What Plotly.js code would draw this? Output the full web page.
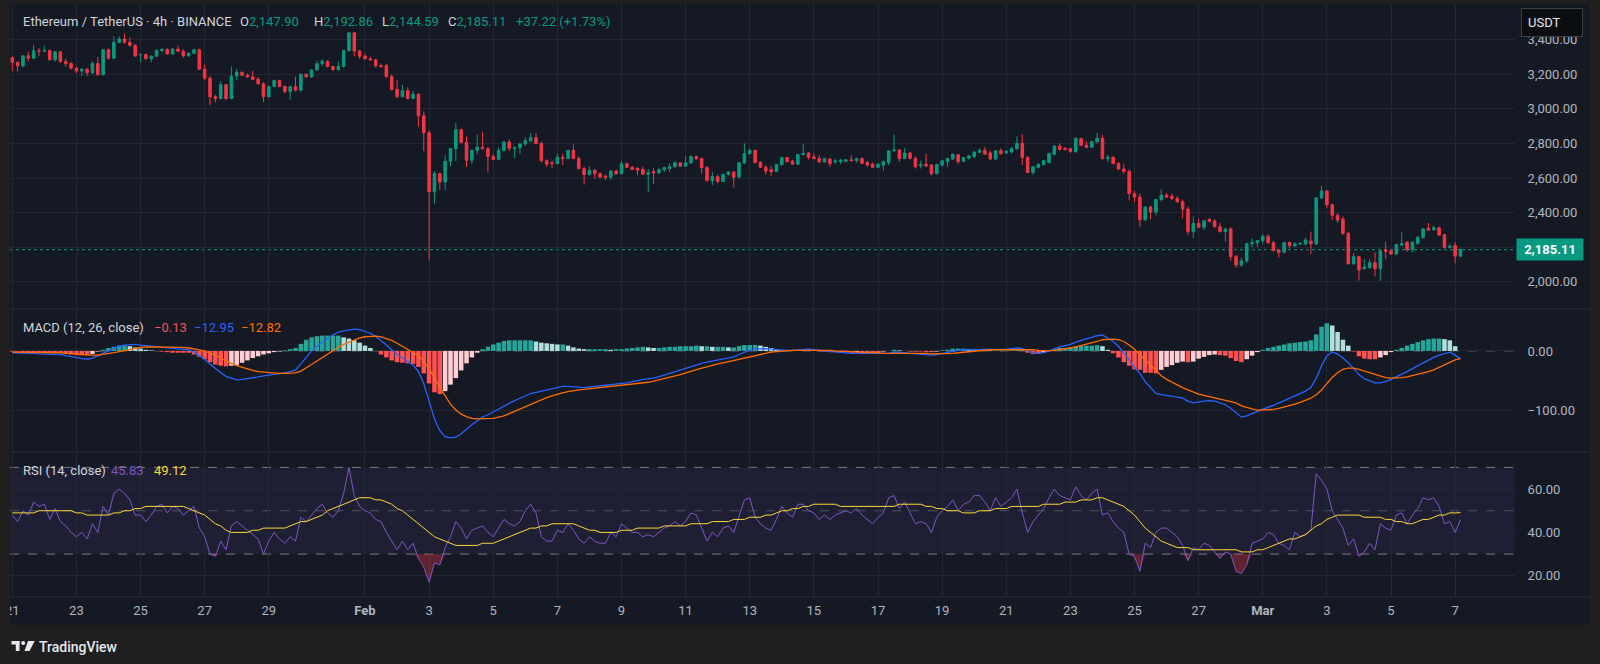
<!DOCTYPE html>
<html><head><meta charset="utf-8">
<script src="https://cdn.plot.ly/plotly-3.0.1.min.js"></script>
<style>html,body{margin:0;padding:0;background:#1f1f1f;overflow:hidden}#chart{width:1600px;height:664px}</style>
</head><body><div id="chart"></div>
<script>
// ---------------- DATA (ETH/USDT 4h, Binance) ----------------
const firstCandle = '2025-01-21T00:00:00Z';
const candleHours = 4;
const open = [
3296,3270,3249,3307,3293,3336,3334,3338,3284,3330,
3274,3262,3236,3220,3230,3210,3262,3197,3342,3293,
3385,3404,3385,3368,3312,3315,3290,3305,3338,3345,
3318,3346,3334,3308,3322,3342,3230,3178,3070,3060,
3140,3060,3190,3212,3195,3185,3172,3145,3070,3130,
3165,3130,3100,3128,3108,3200,3185,3225,3262,3275,
3245,3228,3245,3338,3440,3335,3305,3290,3284,3250,
3250,3187,3113,3070,3105,3060,3085,2960,2862,2520,
2625,2577,2697,2770,2880,2805,2703,2760,2778,2770,
2725,2708,2760,2808,2772,2775,2797,2815,2833,2800,
2700,2688,2683,2720,2713,2760,2713,2655,2620,2645,
2625,2612,2605,2640,2625,2682,2662,2655,2650,2622,
2637,2630,2648,2655,2665,2688,2668,2688,2725,2712,
2660,2585,2608,2580,2620,2635,2605,2688,2742,2760,
2690,2662,2648,2636,2678,2718,2697,2680,2735,2745,
2722,2712,2693,2710,2693,2695,2697,2705,2700,2712,
2690,2680,2662,2675,2690,2757,2762,2713,2745,2713,
2672,2680,2675,2625,2675,2695,2710,2735,2697,2715,
2725,2748,2760,2745,2710,2758,2745,2750,2770,2800,
2718,2632,2662,2678,2690,2738,2785,2772,2770,2752,
2828,2790,2778,2810,2830,2712,2720,2683,2652,2638,
2510,2490,2358,2432,2403,2475,2500,2495,2482,2462,
2420,2290,2338,2315,2360,2350,2318,2290,2305,2145,
2097,2120,2220,2225,2238,2262,2225,2182,2170,2227,
2208,2218,2218,2235,2218,2485,2525,2445,2385,2362,
2280,2103,2145,2075,2082,2110,2075,2185,2178,2160,
2212,2228,2188,2222,2255,2310,2300,2312,2272,2198,
2210,2147.90];
const high = [
3302,3274,3310,3332,3371,3352,3365,3342,3332,3335,
3290,3270,3245,3235,3235,3275,3300,3345,3350,3420,
3420,3435,3415,3375,3320,3320,3310,3345,3350,3350,
3350,3366,3345,3328,3345,3348,3258,3190,3082,3160,
3145,3245,3230,3215,3205,3220,3185,3155,3135,3168,
3168,3135,3135,3187,3205,3205,3228,3280,3290,3282,
3250,3275,3340,3445,3445,3342,3320,3302,3290,3262,
3262,3200,3168,3140,3125,3105,3090,2985,2875,2640,
2630,2732,2775,2920,2885,2840,2765,2850,2868,2780,
2740,2775,2815,2823,2782,2805,2835,2860,2860,2810,
2708,2700,2740,2740,2765,2795,2725,2665,2668,2650,
2632,2615,2645,2648,2700,2688,2670,2665,2665,2652,
2657,2655,2665,2685,2700,2690,2725,2730,2728,2718,
2670,2635,2620,2625,2640,2640,2690,2800,2770,2765,
2698,2675,2670,2682,2722,2722,2705,2740,2796,2750,
2742,2732,2715,2715,2712,2712,2708,2730,2718,2718,
2700,2690,2685,2700,2762,2852,2768,2775,2752,2725,
2700,2740,2680,2682,2705,2718,2742,2738,2722,2735,
2755,2770,2780,2760,2762,2772,2760,2780,2840,2852,
2728,2668,2685,2705,2745,2790,2800,2778,2775,2835,
2833,2813,2813,2862,2850,2735,2725,2693,2680,2650,
2525,2510,2438,2440,2480,2535,2515,2510,2495,2475,
2435,2378,2365,2358,2370,2362,2340,2310,2315,2155,
2140,2225,2250,2242,2275,2275,2235,2190,2230,2232,
2228,2228,2255,2290,2490,2555,2530,2452,2395,2378,
2290,2165,2150,2130,2130,2170,2185,2232,2190,2220,
2285,2235,2232,2262,2312,2340,2325,2318,2278,2218,
2230,2192.86];
const low = [
3218,3216,3240,3274,3290,3307,3330,3280,3275,3268,
3245,3228,3205,3190,3190,3200,3195,3195,3285,3290,
3380,3378,3360,3300,3270,3285,3268,3300,3330,3315,
3315,3330,3295,3300,3316,3228,3165,3022,3037,3055,
3048,3055,3165,3190,3180,3165,3140,3040,3065,3125,
3125,3090,3052,3100,3100,3180,3180,3220,3250,3240,
3220,3220,3240,3332,3305,3290,3285,3280,3240,3238,
3180,3105,3065,3068,3055,3058,2897,2755,2122,2452,
2530,2530,2668,2697,2800,2665,2680,2735,2765,2632,
2702,2705,2750,2757,2718,2742,2785,2808,2795,2690,
2665,2655,2680,2675,2710,2708,2650,2562,2615,2597,
2600,2588,2590,2620,2622,2660,2645,2616,2618,2520,
2565,2625,2635,2635,2660,2665,2665,2682,2705,2625,
2580,2560,2570,2578,2615,2545,2600,2680,2735,2685,
2658,2620,2612,2635,2670,2690,2676,2676,2732,2707,
2712,2690,2690,2665,2680,2680,2692,2698,2690,2680,
2668,2658,2658,2641,2675,2755,2694,2710,2708,2655,
2655,2663,2615,2620,2665,2665,2705,2680,2692,2708,
2715,2745,2734,2705,2705,2735,2740,2742,2762,2675,
2630,2620,2655,2672,2690,2730,2760,2760,2748,2748,
2785,2772,2775,2800,2708,2695,2680,2648,2625,2470,
2460,2315,2352,2360,2385,2465,2485,2472,2458,2367,
2268,2252,2310,2300,2345,2312,2285,2232,2122,2080,
2085,2110,2200,2200,2220,2220,2175,2140,2165,2192,
2200,2215,2210,2160,2212,2480,2425,2356,2340,2270,
2100,2100,2007,2070,2075,2030,2005,2130,2155,2155,
2205,2175,2170,2215,2248,2295,2298,2265,2190,2192,
2106,2144.59];
const close = [
3270,3249,3307,3293,3336,3334,3338,3284,3330,3274,
3262,3236,3220,3230,3210,3262,3197,3342,3293,3385,
3404,3385,3368,3307,3315,3290,3305,3338,3345,3318,
3346,3334,3308,3322,3342,3230,3178,3070,3060,3140,
3060,3190,3212,3195,3185,3172,3145,3070,3130,3165,
3130,3100,3128,3108,3200,3185,3225,3262,3275,3245,
3228,3245,3338,3440,3335,3305,3290,3284,3250,3245,
3187,3113,3070,3105,3060,3085,2960,2862,2520,2625,
2577,2697,2770,2880,2805,2703,2760,2778,2770,2725,
2708,2760,2808,2772,2775,2797,2815,2833,2800,2700,
2680,2683,2720,2713,2760,2713,2655,2620,2645,2625,
2605,2605,2640,2625,2682,2662,2650,2645,2622,2632,
2630,2648,2660,2665,2688,2668,2688,2725,2712,2660,
2585,2608,2580,2620,2635,2605,2688,2742,2760,2690,
2662,2640,2636,2678,2718,2695,2680,2735,2742,2720,
2712,2693,2712,2683,2699,2702,2705,2700,2712,2685,
2675,2662,2680,2695,2757,2762,2713,2745,2713,2665,
2678,2670,2625,2678,2700,2712,2737,2695,2718,2728,
2750,2760,2738,2710,2758,2740,2755,2770,2800,2718,
2632,2665,2680,2700,2742,2785,2765,2765,2752,2830,
2790,2778,2810,2830,2712,2720,2683,2652,2638,2510,
2490,2358,2432,2403,2475,2500,2490,2482,2462,2420,
2290,2338,2315,2352,2350,2318,2290,2305,2145,2097,
2120,2220,2228,2238,2262,2225,2180,2170,2227,2208,
2218,2222,2242,2218,2485,2525,2445,2385,2357,2280,
2103,2145,2068,2085,2110,2075,2178,2175,2160,2215,
2220,2185,2228,2258,2305,2298,2312,2270,2198,2205,
2147.89,2185.11];

// MACD (12, 26, close)
const macdLine = [
-3,-3,-4,-4,-4,-5,-5,-5,-5,-6,
-8,-10,-12,-13,-14,-12,-8,-4,0,4,
8,10,11,11,10,9,8,7,6,5,
4,3,3,2,-2,-8,-14,-22,-30,-37,
-43,-46,-49,-48,-47,-45,-44,-42,-41,-40,
-39,-37,-35,-32,-22,-10,0,8,15,21,
27,32,34,36,37,36,33,30,25,18,
10,2,-6,-12,-18,-24,-35,-55,-85,-115,
-135,-145,-147,-146,-140,-132,-125,-118,-112,-108,
-103,-98,-93,-88,-84,-80,-76,-72,-70,-68,
-66,-64,-62,-60,-60,-61,-62,-62,-61,-60,
-59,-58,-58,-57,-56,-54,-52,-50,-48,-47,
-46,-44,-41,-38,-35,-32,-29,-26,-23,-21,
-19,-17,-15,-13,-12,-10,-6,-2,1,3,
4,4,3,2,1,1,1,2,3,3,
2,1,0,-1,-2,-3,-3,-4,-4,-4,
-4,-5,-5,-5,-4,-2,-2,-3,-4,-5,
-5,-6,-7,-6,-4,-2,0,1,2,2,
3,3,3,3,3,3,3,4,5,4,
0,-3,-4,-3,0,4,7,9,11,15,
18,20,23,26,27,22,16,8,-3,-15,
-28,-38,-52,-62,-72,-74,-75,-77,-78,-80,
-85,-88,-86,-85,-84,-85,-88,-91,-97,-105,
-112,-110,-106,-102,-98,-95,-92,-88,-84,-80,
-76,-72,-68,-62,-46,-25,-8,-2,-5,-12,
-20,-30,-40,-47,-51,-54,-54,-52,-48,-44,
-40,-35,-30,-25,-20,-15,-11,-7,-4,-2,
-7,-12.95];
const signalLine = [
-2,-2,-2,-2,-2,-3,-3,-3,-3,-3,
-4,-4,-5,-6,-7,-7,-7,-6,-5,-3,
-1,1,3,5,6,7,7,7,7,7,
7,6,6,5,4,2,0,-3,-7,-12,
-17,-21,-25,-28,-31,-33,-35,-36,-37,-38,
-38,-38,-38,-37,-34,-29,-23,-17,-11,-5,
1,6,11,15,19,22,24,25,25,24,
21,18,13,8,3,-2,-8,-17,-30,-45,
-62,-77,-90,-100,-107,-111,-114,-115,-115,-115,
-114,-112,-110,-106,-102,-98,-94,-90,-86,-82,
-79,-76,-73,-71,-69,-67,-66,-65,-64,-63,
-62,-61,-60,-60,-59,-58,-57,-56,-55,-53,
-51,-49,-47,-45,-42,-40,-37,-34,-32,-29,
-27,-24,-22,-20,-18,-16,-14,-12,-9,-7,
-5,-3,-2,-1,0,0,1,1,1,2,
2,2,1,1,0,0,-1,-1,-2,-2,
-3,-3,-3,-4,-4,-4,-3,-3,-3,-4,
-4,-4,-5,-5,-5,-4,-4,-3,-2,-1,
0,1,1,2,2,2,2,3,3,3,
3,2,1,0,0,1,2,4,5,7,
9,11,14,16,19,20,20,19,16,10,
3,-6,-15,-25,-34,-42,-48,-53,-58,-62,
-66,-70,-73,-75,-77,-79,-81,-83,-85,-88,
-93,-96,-98,-100,-100,-100,-99,-97,-95,-93,
-90,-87,-84,-80,-74,-66,-55,-45,-37,-31,
-29,-29,-31,-34,-37,-40,-43,-45,-46,-46,
-45,-44,-42,-40,-38,-35,-32,-28,-24,-20,
-15,-12.82];
const histogram = [
-1,-1,-2,-2,-2,-2,-2,-2,-2,-3,
-4,-6,-7,-7,-7,-5,-1,2,5,7,
9,9,8,6,4,2,1,0,-1,-2,
-3,-3,-3,-3,-6,-10,-14,-19,-23,-25,
-26,-25,-24,-20,-16,-12,-9,-6,-4,-2,
-1,1,3,5,12,19,23,25,26,26,
26,26,23,21,18,14,9,5,0,-6,
-11,-16,-19,-20,-21,-22,-27,-38,-55,-70,
-73,-68,-57,-46,-33,-21,-11,-3,3,7,
11,14,17,18,18,18,18,18,16,14,
13,12,11,11,9,6,4,3,3,3,
3,3,2,3,3,4,5,6,7,6,
5,5,6,7,7,8,8,8,9,8,
8,7,7,7,6,6,8,10,10,10,
9,7,5,3,1,1,0,1,2,1,
0,-1,-1,-2,-2,-3,-2,-3,-2,-2,
-1,-2,-2,-1,0,2,1,0,-1,-1,
-1,-2,-2,-1,1,2,4,4,4,3,
3,2,2,1,1,1,1,1,2,1,
-3,-5,-5,-3,0,3,5,5,6,8,
9,9,9,10,8,2,-4,-11,-19,-25,
-31,-32,-37,-37,-38,-32,-27,-24,-20,-18,
-19,-18,-13,-10,-7,-6,-7,-8,-12,-17,
-19,-14,-8,-2,2,5,7,9,11,13,
14,15,16,18,28,41,47,43,32,19,
9,-1,-9,-13,-14,-14,-11,-7,-2,2,
5,9,12,15,18,20,21,21,20,18,
8,-0.13];

// RSI (14, close) and its moving average
const rsi = [
48,45,50,48,54,52,53,46,51,45,
43,40,38,40,37,44,40,52,48,58,
60,58,55,48,48,45,48,52,53,49,
52,51,48,50,52,42,38,30,29,36,
32,43,45,43,41,39,37,30,36,40,
37,35,38,36,47,45,48,51,53,49,
47,50,58,70,57,52,50,49,46,45,
40,36,32,36,32,35,28,24,17,26,
25,33,38,45,42,37,41,42,43,40,
38,42,46,44,43,45,50,53,49,38,
36,36,41,40,44,41,37,35,38,36,
35,35,40,38,44,42,40,40,38,39,
38,40,42,43,45,43,45,49,48,42,
36,40,38,42,43,40,48,55,56,47,
44,42,41,46,52,49,47,53,53,50,
49,46,48,46,48,49,50,49,51,48,
46,44,47,49,56,57,51,54,49,44,
45,44,40,47,50,52,55,50,53,54,
57,57,54,50,56,52,54,56,60,49,
40,45,48,51,56,60,57,56,55,61,
57,55,58,60,48,49,45,42,40,30,
29,22,35,33,40,42,42,40,38,34,
27,33,32,35,34,31,28,31,30,22,
21,25,35,36,37,40,39,35,34,32,
40,38,39,41,67,64,60,50,46,42,
34,37,29,31,35,32,44,42,41,48,
49,44,48,51,56,55,56,52,44,45,
40,45.83];
const rsiMA = [
49,49,49,49,49,50,50,50,50,50,
50,50,49,49,48,48,48,48,48,49,
49,50,50,51,51,52,52,52,52,52,
52,52,52,51,50,49,48,46,44,43,
41,40,40,40,40,41,41,42,42,42,
42,42,43,44,45,45,46,47,48,50,
51,52,53,54,55,56,56,56,55,55,
54,53,51,50,48,46,44,42,40,38,
37,36,35,34,34,34,34,34,35,35,
35,36,37,38,39,40,41,42,42,43,
43,44,44,44,44,44,43,42,41,41,
40,40,40,40,41,41,41,42,42,42,
42,42,43,43,43,43,43,44,44,44,
44,45,45,45,45,46,46,46,47,47,
47,48,48,49,50,50,51,51,52,52,
53,53,53,53,53,52,52,52,52,52,
52,52,52,52,52,52,53,53,53,53,
53,52,52,51,51,50,50,50,49,49,
49,50,50,50,51,51,51,52,52,52,
52,52,52,53,53,53,53,54,54,54,
55,55,55,56,56,55,54,53,52,50,
48,45,42,40,38,36,35,34,33,33,
33,32,32,32,32,32,32,32,32,32,
31,31,31,32,32,33,34,35,36,37,
37,38,39,41,43,44,46,47,48,48,
48,48,48,47,47,47,47,46,46,45,
45,44,44,45,46,46,47,48,48,49,
49,49.12];

// Axis ticks
const dateTicks = ['2025-01-21','2025-01-23','2025-01-25','2025-01-27','2025-01-29','2025-02-01','2025-02-03','2025-02-05','2025-02-07','2025-02-09','2025-02-11','2025-02-13','2025-02-15','2025-02-17','2025-02-19','2025-02-21','2025-02-23','2025-02-25','2025-02-27','2025-03-01','2025-03-03','2025-03-05','2025-03-07'];
const dateLabels = ['21','23','25','27','29','<b>Feb</b>','3','5','7','9','11','13','15','17','19','21','23','25','27','<b>Mar</b>','3','5','7'];
const priceTicks = [2000,2200,2400,2600,2800,3000,3200,3400];
const priceLabels = ['2,000.00','','2,400.00','2,600.00','2,800.00','3,000.00','3,200.00','3,400.00'];
const macdTicks = [-100,0];
const rsiTicks = [20,40,60];
const rsiLevels = [70,50,30];

// ---------------- BUILD ----------------
const t0 = Date.parse(firstCandle);
const step = candleHours*3600*1000;
const times = close.map((_, i) => t0 + i*step);
const N = close.length;

const W=1600, H=664, L=10, R=85, T=4, B=67;
const PW=W-L-R, PH=H-T-B;
const px = x => (x-L)/PW;
const py = y => 1-(y-T)/PH;

const UP='#089981', DN='#f23645';
const histColors = histogram.map((h,i)=>{
  const p = i>0 ? histogram[i-1] : h;
  if (h>=0) return h>=p ? '#26a69a' : '#b2dfdb';
  return h<=p ? '#ff5252' : '#ffcdd2';
});
const lowBand = rsi.map(()=>30), highBand = rsi.map(()=>70);
const rsiUnder = rsi.map(v=>Math.min(v,30)), rsiOver = rsi.map(v=>Math.max(v,70));

const traces = [
  {type:'candlestick', x:times, open, high, low, close, xaxis:'x', yaxis:'y',
   increasing:{line:{color:UP,width:1}, fillcolor:UP},
   decreasing:{line:{color:DN,width:1}, fillcolor:DN},
   whiskerwidth:0, hoverinfo:'skip', showlegend:false},
  {type:'bar', x:times, y:histogram, xaxis:'x', yaxis:'y2', marker:{color:histColors, line:{width:0}}, hoverinfo:'skip', showlegend:false},
  {type:'scatter', mode:'lines', x:times, y:macdLine, xaxis:'x', yaxis:'y2', line:{color:'#2962ff',width:1.3}, hoverinfo:'skip', showlegend:false},
  {type:'scatter', mode:'lines', x:times, y:signalLine, xaxis:'x', yaxis:'y2', line:{color:'#ff6d00',width:1.3}, hoverinfo:'skip', showlegend:false},
  // oversold / overbought fills
  {type:'scatter', mode:'lines', x:times, y:lowBand, xaxis:'x', yaxis:'y3', line:{width:0, color:'rgba(0,0,0,0)'}, hoverinfo:'skip', showlegend:false},
  {type:'scatter', mode:'lines', x:times, y:rsiUnder, xaxis:'x', yaxis:'y3', line:{width:0, color:'rgba(0,0,0,0)'}, fill:'tonexty', fillcolor:'rgba(242,54,69,0.35)', hoverinfo:'skip', showlegend:false},
  {type:'scatter', mode:'lines', x:times, y:highBand, xaxis:'x', yaxis:'y3', line:{width:0, color:'rgba(0,0,0,0)'}, hoverinfo:'skip', showlegend:false},
  {type:'scatter', mode:'lines', x:times, y:rsiOver, xaxis:'x', yaxis:'y3', line:{width:0, color:'rgba(0,0,0,0)'}, fill:'tonexty', fillcolor:'rgba(8,153,129,0.35)', hoverinfo:'skip', showlegend:false},
  {type:'scatter', mode:'lines', x:times, y:rsi, xaxis:'x', yaxis:'y3', line:{color:'#7e57c2',width:1}, hoverinfo:'skip', showlegend:false},
  {type:'scatter', mode:'lines', x:times, y:rsiMA, xaxis:'x', yaxis:'y3', line:{color:'#fdd835',width:1}, hoverinfo:'skip', showlegend:false}
];

const GRID='#232733', TICK='#b2b5be', FONT='Roboto, "Noto Sans", sans-serif';
const yCommon = {side:'right', anchor:'x', gridcolor:GRID, gridwidth:1, zeroline:false, showline:false,
  ticks:'outside', ticklen:9, tickcolor:'rgba(0,0,0,0)', tickfont:{color:TICK,size:13,family:FONT}, fixedrange:true};

const lastC = close[N-1], prevC = close[N-2], lastO = open[N-1], lastH = high[N-1], lastLo = low[N-1];
const chg = lastC - prevC, pct = chg/prevC*100;
const f2 = v => v.toLocaleString('en-US',{minimumFractionDigits:2, maximumFractionDigits:2});
const sgn = v => (v>=0?'+':'\u2212') + f2(Math.abs(v));
const minus = v => (v<0?'\u2212':'') + f2(Math.abs(v));

const shapes = [
  {type:'rect', xref:'paper', yref:'paper', x0:px(10), x1:px(1590), y0:py(4), y1:py(625), fillcolor:'#151924', line:{width:0}, layer:'below'},
  {type:'rect', xref:'paper', yref:'y3', x0:0, x1:1, y0:30, y1:70, fillcolor:'rgba(126,87,194,0.10)', line:{width:0}, layer:'below'},
  ...rsiLevels.map(v=>({type:'line', xref:'paper', yref:'y3', x0:0, x1:1, y0:v, y1:v, line:{color: v===50?'rgba(120,123,134,0.55)':'#787b86', width:1, dash:'dash'}, layer:'below'})),
  {type:'line', xref:'paper', yref:'y2', x0:0, x1:1, y0:0, y1:0, line:{color:'rgba(120,123,134,0.8)', width:1, dash:'dash'}, layer:'below'},
  {type:'line', xref:'paper', yref:'y', x0:0, x1:1, y0:lastC, y1:lastC, line:{color:UP, width:1, dash:'dot'}, layer:'below'},
  ...[309,452,597].map(y=>({type:'line', xref:'paper', yref:'paper', x0:px(10), x1:px(1590), y0:py(y), y1:py(y), line:{color:'#2a2e39', width:1}})),
  {type:'rect', xref:'paper', yref:'paper', x0:px(0), x1:px(10), y0:py(596), y1:py(628), fillcolor:'#1f1f1f', line:{width:0}, layer:'above'},
  // TradingView logo
  {type:'rect', xref:'paper', yref:'paper', x0:px(11.5), x1:px(19.5), y0:py(644.5), y1:py(641), fillcolor:'#e6e8ee', line:{width:0}},
  {type:'rect', xref:'paper', yref:'paper', x0:px(15.8), x1:px(19.5), y0:py(651), y1:py(641), fillcolor:'#e6e8ee', line:{width:0}},
  {type:'circle', xref:'paper', yref:'paper', x0:px(21.2), x1:px(25.2), y0:py(645), y1:py(641), fillcolor:'#e6e8ee', line:{width:0}},
  {type:'path', xref:'paper', yref:'paper', path:`M ${px(28)} ${py(641)} L ${px(34.7)} ${py(641)} L ${px(29.5)} ${py(651)} L ${px(24.5)} ${py(651)} Z`, fillcolor:'#e6e8ee', line:{width:0}}
];

const ann = (x,y,text,opts={}) => Object.assign({xref:'paper', yref:'paper', x:px(x), y:py(y), xanchor:'left', yanchor:'middle', text, showarrow:false, font:{family:FONT,size:13,color:'#d1d4dc'}}, opts);
const V = s => `<span style="color:${UP}">${s}</span>`;

const annotations = [
  ann(20.5, 21, 'Ethereum / TetherUS · 4h · BINANCE'),
  ann(238, 21, 'O'+V(f2(lastO))),
  ann(312, 21, 'H'+V(f2(lastH))),
  ann(380, 21, 'L'+V(f2(lastLo))),
  ann(446, 21, 'C'+V(f2(lastC))),
  ann(514, 21, V(sgn(chg)+' ('+sgn(pct)+'%)')),
  ann(20.5, 327, 'MACD (12, 26, close)'),
  ann(152, 327, minus(histogram[N-1]), {font:{family:FONT,size:13,color:'#f7525f'}}),
  ann(192, 327, minus(macdLine[N-1]), {font:{family:FONT,size:13,color:'#2962ff'}}),
  ann(239, 327, minus(signalLine[N-1]), {font:{family:FONT,size:13,color:'#ff6d00'}}),
  ann(20.5, 470, 'RSI (14, close)'),
  ann(109, 470, f2(rsi[N-1]), {font:{family:FONT,size:13,color:'#7e57c2'}}),
  ann(152, 470, f2(rsiMA[N-1]), {font:{family:FONT,size:13,color:'#fdd835'}}),
  // price scale label
  {xref:'paper', yref:'y', x:px(1550), y:lastC, xanchor:'center', yanchor:'middle', text:'<b>'+f2(lastC)+'</b>', showarrow:false,
   font:{family:FONT,size:13,color:'#ffffff'}, bgcolor:UP, borderpad:3, width:60},
  // currency box
  {xref:'paper', yref:'paper', x:px(1521), y:py(22), xanchor:'left', yanchor:'middle', text:'USDT', showarrow:false, align:'left',
   font:{family:FONT,size:13,color:'#e6e8ee'}, bgcolor:'#0c0d10', bordercolor:'#3a3e48', borderwidth:1, borderpad:6, width:48},
  ann(37, 647, 'TradingView', {font:{family:FONT,size:14,color:'#e6e8ee', weight:500}})
];

const layout = {
  width:W, height:H, margin:{l:L, r:R, t:T, b:B, pad:0},
  paper_bgcolor:'#1f1f1f', plot_bgcolor:'rgba(0,0,0,0)',
  showlegend:false, bargap:0.15, boxgap:0.32, hovermode:false, dragmode:false,
  xaxis:{type:'date', anchor:'y3', range:[t0-0.43*step, t0+281.2*step], tickvals:dateTicks, ticktext:dateLabels,
    gridcolor:GRID, gridwidth:1, zeroline:false, showline:false, ticks:'outside', ticklen:1, tickcolor:'rgba(0,0,0,0)',
    tickfont:{color:TICK,size:13,family:FONT}, rangeslider:{visible:false}, fixedrange:true},
  yaxis: Object.assign({}, yCommon, {domain:[py(309),1], range:[1842,3607], tickvals:priceTicks, ticktext:priceLabels}),
  yaxis2: Object.assign({}, yCommon, {domain:[py(452),py(309)], range:[-171,71], tickvals:macdTicks, tickformat:',.2f'}),
  yaxis3: Object.assign({}, yCommon, {domain:[0,py(452)], range:[10.2,77.1], tickvals:rsiTicks, tickformat:',.2f'}),
  shapes, annotations
};

Plotly.newPlot('chart', traces, layout, {staticPlot:true, displayModeBar:false});
</script>
</body></html>
